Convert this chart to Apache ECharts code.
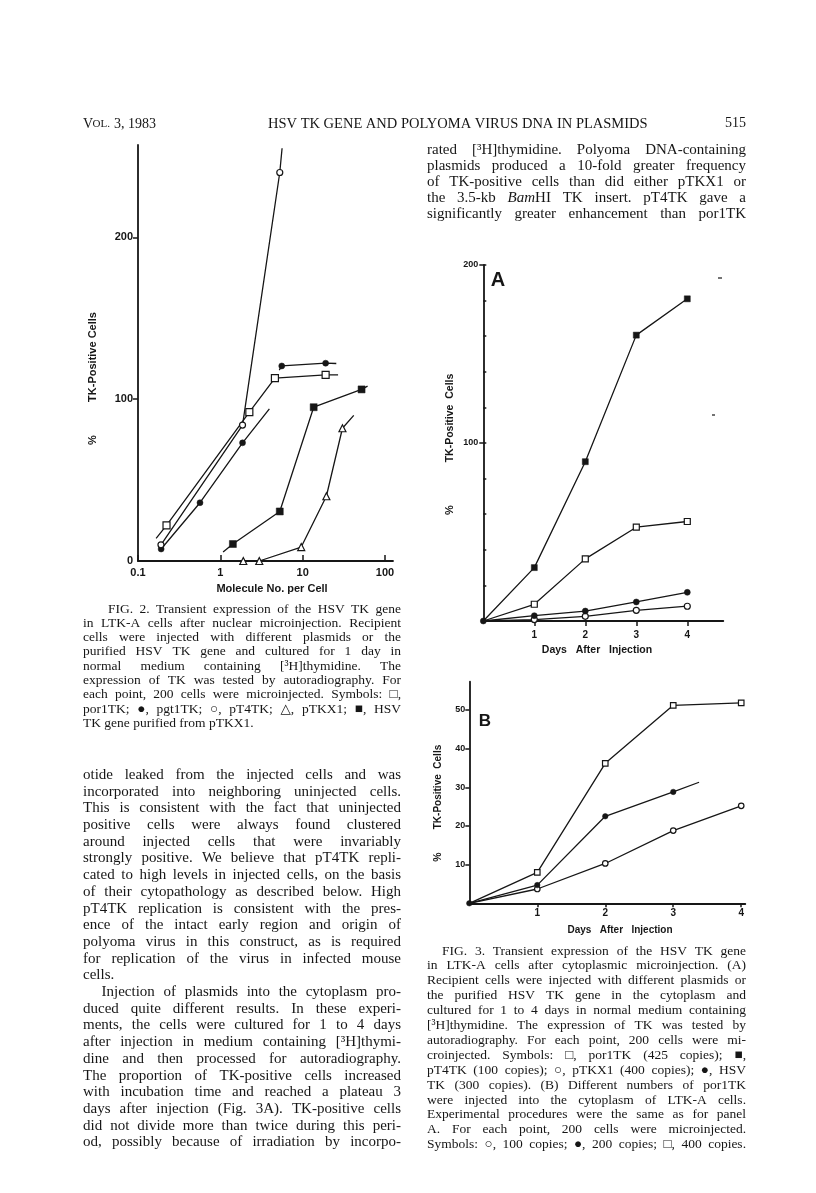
<!DOCTYPE html>
<html>
<head>
<meta charset="utf-8">
<script src="https://cdn.jsdelivr.net/npm/echarts@6/dist/echarts.min.js"></script>
<style>
    html, body { margin: 0; padding: 0; background: #fff; }
    #page { width: 816px; height: 1193px; }
</style>
</head>
<body>
<div id="page"></div>
<script>
// Fig. 2 - molecules per cell (log x) vs % TK-positive cells
var fig2XTicks = [0.1, 1, 10, 100];
var fig2YTicks = [0, 100, 200];
var fig2Por1TK = [[0.222, 22], [2.25, 92], [4.6, 113], [19, 115]];
var fig2Por1TKEnds = [[0.166, 14], [26.9, 115]];
var fig2Pgt1TKLow = [[0.191, 7.4], [0.566, 36], [1.86, 73]];
var fig2Pgt1TKLowEnds = [null, [3.94, 94]];
var fig2Pgt1TKHigh = [[5.57, 120.5], [19, 122.2]];
var fig2Pgt1TKHighEnds = [[5.2, 117.9], [25.6, 122]];
var fig2PT4TK = [[0.19, 10], [1.86, 84], [5.27, 240]];
var fig2PT4TKEnds = [null, [5.62, 255]];
var fig2PTKX1 = [[1.9, 0], [2.97, 0], [9.6, 8.6], [19.4, 40], [30.4, 82]];
var fig2PTKX1Ends = [null, [41.7, 90]];
var fig2HSVTK = [[1.42, 10.5], [5.27, 30.6], [13.6, 95], [51.9, 106]];
var fig2HSVTKEnds = [[1.08, 5.5], [61.4, 108]];

// Fig. 3A - days after injection
var days = [0, 1, 2, 3, 4];
var dayTicks = [1, 2, 3, 4];
var aYMinorTicks = [20, 40, 60, 80, 100, 120, 140, 160, 180, 200];
var aYLabels = [100, 200];
var aPT4TK = [0, 30, 89.5, 160.6, 181];
var aPor1TK = [0, 9.4, 34.9, 52.7, 55.9];
var aHSVTK = [0, 3, 5.6, 10.7, 16.1];
var aPTKX1 = [0, 0.8, 2.6, 6, 8.3];

// Fig. 3B - copies of por1TK
var bYTicks = [10, 20, 30, 40, 50];
var b400 = [0, 8, 36.2, 51.2, 51.8];
var b200 = [0, 4.7, 22.5, 28.8];
var b200End = [3.38, 31.3];
var b100 = [0, 3.7, 10.3, 18.8, 25.2];

// page text
var rightTopLines = [
    'rated [³H]thymidine. Polyoma DNA-containing',
    'plasmids produced a 10-fold greater frequency',
    'of TK-positive cells than did either pTKX1 or',
    'the 3.5-kb _Bam_HI TK insert. pT4TK gave a',
    'significantly greater enhancement than por1TK'
];
var fig2CaptionLines = [
    'FIG. 2. Transient expression of the HSV TK gene',
    'in LTK-A cells after nuclear microinjection. Recipient',
    'cells were injected with different plasmids or the',
    'purified HSV TK gene and cultured for 1 day in',
    'normal medium containing [³H]thymidine. The',
    'expression of TK was tested by autoradiography. For',
    'each point, 200 cells were microinjected. Symbols: □,',
    'por1TK; ●, pgt1TK; ○, pT4TK; △, pTKX1; ■, HSV',
    'TK gene purified from pTKX1.'
];
var bodyLines = [
    'otide leaked from the injected cells and was',
    'incorporated into neighboring uninjected cells.',
    'This is consistent with the fact that uninjected',
    'positive cells were always found clustered',
    'around injected cells that were invariably',
    'strongly positive. We believe that pT4TK repli-',
    'cated to high levels in injected cells, on the basis',
    'of their cytopathology as described below. High',
    'pT4TK replication is consistent with the pres-',
    'ence of the intact early region and origin of',
    'polyoma virus in this construct, as is required',
    'for replication of the virus in infected mouse',
    'cells.',
    'Injection of plasmids into the cytoplasm pro-',
    'duced quite different results. In these experi-',
    'ments, the cells were cultured for 1 to 4 days',
    'after injection in medium containing [³H]thymi-',
    'dine and then processed for autoradiography.',
    'The proportion of TK-positive cells increased',
    'with incubation time and reached a plateau 3',
    'days after injection (Fig. 3A). TK-positive cells',
    'did not divide more than twice during this peri-',
    'od, possibly because of irradiation by incorpo-'
];
var fig3CaptionLines = [
    'FIG. 3. Transient expression of the HSV TK gene',
    'in LTK-A cells after cytoplasmic microinjection. (A)',
    'Recipient cells were injected with different plasmids or',
    'the purified HSV TK gene in the cytoplasm and',
    'cultured for 1 to 4 days in normal medium containing',
    '[³H]thymidine. The expression of TK was tested by',
    'autoradiography. For each point, 200 cells were mi-',
    'croinjected. Symbols: □, por1TK (425 copies); ■,',
    'pT4TK (100 copies); ○, pTKX1 (400 copies); ●, HSV',
    'TK (300 copies). (B) Different numbers of por1TK',
    'were injected into the cytoplasm of LTK-A cells.',
    'Experimental procedures were the same as for panel',
    'A. For each point, 200 cells were microinjected.',
    'Symbols: ○, 100 copies; ●, 200 copies; □, 400 copies.'
];

var serif = '"Liberation Serif", "DejaVu Serif", serif';
var sans = '"Liberation Sans", Arial, sans-serif';
var ink = '#161616';

var measureCtx = document.createElement('canvas').getContext('2d');
function textWidth(str, font) {
    measureCtx.font = font;
    return measureCtx.measureText(str).width;
}
function serifFont(size, italic) {
    return (italic ? 'italic ' : '') + size + 'px ' + serif;
}
// "_Bam_HI" -> italic "Bam" + "HI"
function wordParts(word, size) {
    var parts = [];
    word.split('_').forEach(function (t, i) {
        if (t === '') return;
        var f = serifFont(size, i % 2 === 1);
        parts.push({text: t, font: f, w: textWidth(t, f)});
    });
    return parts;
}
function wordWidth(word, size) {
    return wordParts(word, size).reduce(function (s, p) { return s + p.w; }, 0);
}

var graphics = [];

function textEl(str, x, y, font, align, rotation) {
    return {
        type: 'text', x: x, y: y, rotation: rotation || 0, silent: true,
        style: {
            text: str, font: font, fill: ink,
            textAlign: align || 'left', textVerticalAlign: 'middle',
            align: align || 'left', verticalAlign: 'middle'
        }
    };
}

function setLine(str, x0, x1, y, size, justify) {
    var words = str.split(' ');
    var total = 0;
    words.forEach(function (w) { total += wordWidth(w, size); });
    var gap = textWidth(' ', serifFont(size));
    if (justify && words.length > 1) gap = (x1 - x0 - total) / (words.length - 1);
    var x = x0;
    words.forEach(function (w) {
        wordParts(w, size).forEach(function (p) {
            graphics.push(textEl(p.text, x, y, p.font));
            x += p.w;
        });
        x += gap;
    });
}

// largest size (<= base) at which every justified line still has room
function fitSize(lines, width, base, starts, x0) {
    var size = base;
    for (; size > 9; size -= 0.25) {
        var ok = lines.every(function (l, i) {
            var w = width - ((starts[i] || x0) - x0);
            var words = l.split(' ');
            var total = 0;
            words.forEach(function (wd) { total += wordWidth(wd, size); });
            var minGap = textWidth(' ', serifFont(size)) * 0.75;
            return total + minGap * (words.length - 1) <= w;
        });
        if (ok) break;
    }
    return size;
}

function setBlock(lines, x0, x1, y0, step, base, starts, noJustify) {
    var size = fitSize(lines, x1 - x0, base, starts, x0);
    lines.forEach(function (l, i) {
        var xs = starts[i] || x0;
        setLine(l, xs, x1, y0 + step * i, size, noJustify.indexOf(i) < 0);
    });
}

// header
graphics.push(textEl('V', 83, 124, '14px ' + serif));
graphics.push(textEl('OL. ', 92.5, 124.5, '11px ' + serif));
graphics.push(textEl('3, 1983', 114, 124, '14px ' + serif));
graphics.push(textEl('HSV TK GENE AND POLYOMA VIRUS DNA IN PLASMIDS', 268, 124, '14.5px ' + serif));
graphics.push(textEl('515', 746, 123, '14px ' + serif, 'right'));

setBlock(rightTopLines, 427, 746, 150, 16.1, 15, {}, []);
setBlock(fig2CaptionLines, 83, 401, 609, 14.3, 13.5, {0: 108}, [8]);
setBlock(bodyLines, 83, 401, 775, 16.7, 15, {13: 101.5}, [12]);
setBlock(fig3CaptionLines, 427, 746, 951, 14.9, 13.5, {0: 442}, []);

// axis titles and panel letters
var boldLabel = function (size) { return 'bold ' + size + 'px ' + sans; };
graphics.push(textEl('TK-Positive Cells', 93, 357, boldLabel(11), 'center', Math.PI / 2));
graphics.push(textEl('%', 93, 440, boldLabel(11), 'center', Math.PI / 2));
graphics.push(textEl('Molecule No. per Cell', 272, 589, boldLabel(11), 'center'));

graphics.push(textEl('TK-Positive  Cells', 450, 418, boldLabel(10.5), 'center', Math.PI / 2));
graphics.push(textEl('%', 450, 510, boldLabel(11), 'center', Math.PI / 2));
graphics.push(textEl('Days   After   Injection', 597, 650, boldLabel(10.5), 'center'));
graphics.push(textEl('A', 498, 280, boldLabel(20), 'center'));

graphics.push(textEl('TK-Positive  Cells', 438, 787, boldLabel(10), 'center', Math.PI / 2));
graphics.push(textEl('%', 438, 857, boldLabel(10.5), 'center', Math.PI / 2));
graphics.push(textEl('Days   After   Injection', 620, 930, boldLabel(10), 'center'));
graphics.push(textEl('B', 485, 721, boldLabel(17), 'center'));

// stray marks on the scan
graphics.push({type: 'line', silent: true, shape: {x1: 718, y1: 278, x2: 722, y2: 278}, style: {stroke: ink, lineWidth: 1.2}});
graphics.push({type: 'line', silent: true, shape: {x1: 712, y1: 415, x2: 715, y2: 415}, style: {stroke: ink, lineWidth: 1.2}});

// chart helpers
function withEnds(points, ends) {
    var d = [];
    if (ends && ends[0]) d.push({value: ends[0], symbol: 'none'});
    points.forEach(function (p) { d.push(p); });
    if (ends && ends[1]) d.push({value: ends[1], symbol: 'none'});
    return d;
}
function dayPairs(vals, markOrigin, end) {
    var d = vals.map(function (v, i) {
        if (i === 0 && !markOrigin) return {value: [days[i], v], symbol: 'none'};
        return [days[i], v];
    });
    if (end) d.push({value: end, symbol: 'none'});
    return d;
}
var markers = {
    openSquare: {symbol: 'rect', itemStyle: {color: '#fff', borderColor: ink, borderWidth: 1.2}},
    filledSquare: {symbol: 'rect', itemStyle: {color: ink, borderColor: ink, borderWidth: 0.5}},
    openCircle: {symbol: 'circle', itemStyle: {color: '#fff', borderColor: ink, borderWidth: 1.2}},
    filledCircle: {symbol: 'circle', itemStyle: {color: ink, borderColor: ink, borderWidth: 0.5}},
    openTriangle: {symbol: 'triangle', itemStyle: {color: '#fff', borderColor: ink, borderWidth: 1.2}}
};
function lineSeries(name, data, marker, size, xi, yi, z) {
    return {
        name: name,
        type: 'line',
        xAxisIndex: xi,
        yAxisIndex: yi,
        data: data,
        symbol: marker.symbol,
        symbolSize: size,
        showSymbol: true,
        itemStyle: marker.itemStyle,
        lineStyle: {color: ink, width: 1.3},
        emphasis: {disabled: true},
        silent: true,
        z: z || 3
    };
}

var axisLine = {lineStyle: {color: ink, width: 1.8}, onZero: false};
var tickStyle = {color: ink, width: 1.5};
var labelStyle = function (size) {
    return {color: ink, fontFamily: sans, fontWeight: 'bold', fontSize: size};
};

var pageChart = echarts.init(document.getElementById('page'));
var pageOption = {
    animation: false,
    backgroundColor: '#fff',
    grid: [
        {left: 138, top: 145, width: 255, height: 416},
        {left: 483.3, top: 265, width: 240, height: 356},
        {left: 469.3, top: 681.7, width: 276, height: 221.6}
    ],
    xAxis: [
        {
            gridIndex: 0, type: 'log', logBase: 10, min: 0.1, max: 125,
            axisLine: axisLine,
            axisTick: {inside: true, length: 6, lineStyle: tickStyle, customValues: fig2XTicks},
            axisLabel: Object.assign(labelStyle(11), {
                margin: 6,
                customValues: fig2XTicks,
                formatter: function (v) { return v < 1 ? '0.1' : String(Math.round(v)); }
            }),
            splitLine: {show: false}
        },
        {
            gridIndex: 1, type: 'value', min: 0, max: 4.706,
            axisLine: axisLine,
            axisTick: {length: 5, lineStyle: tickStyle, customValues: dayTicks},
            axisLabel: Object.assign(labelStyle(10), {margin: 9, customValues: dayTicks}),
            splitLine: {show: false}
        },
        {
            gridIndex: 2, type: 'value', min: 0, max: 4.06,
            axisLine: axisLine,
            axisTick: {length: 4, lineStyle: tickStyle, customValues: dayTicks},
            axisLabel: Object.assign(labelStyle(10), {margin: 5, customValues: dayTicks}),
            splitLine: {show: false}
        }
    ],
    yAxis: [
        {
            gridIndex: 0, type: 'value', min: 0, max: 257, position: 'left',
            axisLine: axisLine,
            axisTick: {length: 5, lineStyle: tickStyle, customValues: [100, 200]},
            axisLabel: Object.assign(labelStyle(11), {margin: 5, customValues: fig2YTicks}),
            splitLine: {show: false}
        },
        {
            gridIndex: 1, type: 'value', min: 0, max: 200, position: 'left',
            axisLine: axisLine,
            axisTick: {inside: true, length: 3, lineStyle: tickStyle, customValues: aYMinorTicks},
            axisLabel: Object.assign(labelStyle(9), {margin: 5, customValues: aYLabels}),
            splitLine: {show: false}
        },
        {
            // outward marks at 100 and 200 on the same left axis
            gridIndex: 1, type: 'value', min: 0, max: 200, position: 'left', offset: 0,
            axisLine: {show: false, onZero: false},
            axisTick: {length: 4, lineStyle: tickStyle, customValues: aYLabels},
            axisLabel: {show: false},
            splitLine: {show: false}
        },
        {
            gridIndex: 2, type: 'value', min: 0, max: 57.3, position: 'left',
            axisLine: axisLine,
            axisTick: {length: 4, lineStyle: tickStyle, customValues: bYTicks},
            axisLabel: Object.assign(labelStyle(9), {margin: 4, customValues: bYTicks}),
            splitLine: {show: false}
        }
    ],
    series: [
        // Fig. 2
        lineSeries('por1TK', withEnds(fig2Por1TK, fig2Por1TKEnds), markers.openSquare, 7, 0, 0),
        lineSeries('pgt1TK', withEnds(fig2Pgt1TKLow, fig2Pgt1TKLowEnds), markers.filledCircle, 6, 0, 0),
        lineSeries('pgt1TK ', withEnds(fig2Pgt1TKHigh, fig2Pgt1TKHighEnds), markers.filledCircle, 6, 0, 0),
        lineSeries('pT4TK', withEnds(fig2PT4TK, fig2PT4TKEnds), markers.openCircle, 6, 0, 0),
        lineSeries('pTKX1', withEnds(fig2PTKX1, fig2PTKX1Ends), markers.openTriangle, 7, 0, 0, 4),
        lineSeries('HSV TK', withEnds(fig2HSVTK, fig2HSVTKEnds), markers.filledSquare, 7, 0, 0),
        // Fig. 3A
        lineSeries('pT4TK', dayPairs(aPT4TK, false), markers.filledSquare, 6, 1, 1),
        lineSeries('por1TK', dayPairs(aPor1TK, false), markers.openSquare, 6, 1, 1),
        lineSeries('pTKX1', dayPairs(aPTKX1, false), markers.openCircle, 6, 1, 1),
        lineSeries('HSV TK', dayPairs(aHSVTK, true), markers.filledCircle, 6, 1, 1, 4),
        // Fig. 3B
        lineSeries('400 copies', dayPairs(b400, false), markers.openSquare, 5.5, 2, 3),
        lineSeries('100 copies', dayPairs(b100, false), markers.openCircle, 5.5, 2, 3),
        lineSeries('200 copies', dayPairs(b200, true, b200End), markers.filledCircle, 5.5, 2, 3, 4)
    ],
    graphic: {elements: graphics}
};
pageChart.setOption(pageOption);
</script>
</body>
</html>
